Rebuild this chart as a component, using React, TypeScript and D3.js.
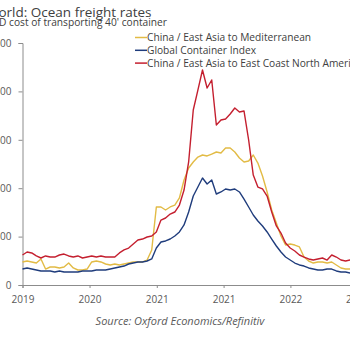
import { useEffect, useRef } from 'react';
import * as d3 from 'd3';

// three-weekly observations, May 2019 onward
const dates = d3.timeDay.range(new Date(2019, 4, 1), new Date(2023, 5, 2), 21);

const chinaMed = [
  2380, 2480, 2380, 2270, 2690, 1650, 1860, 1860, 1760, 1860, 2270, 1760,
  1550, 1550, 1650, 2380, 2480, 2380, 2170, 2070, 2170, 2070, 2170, 2270,
  2380, 2380, 2380, 2580, 3620, 8060, 8060, 7750, 8060, 8260, 8990, 10850,
  12090, 12710, 13220, 13430, 13330, 13530, 13740, 13640, 14150, 14150, 13740, 13120,
  12710, 12810, 13430, 12600, 11260, 9610, 7750, 6400, 5060, 4130, 4240, 4130,
  3930, 2890, 2480, 2270, 2380, 2380, 2270, 2380, 2070, 1760, 1650, 1650,
];

const globalIndex = [
  1650, 1760, 1650, 1550, 1450, 1450, 1450, 1340, 1450, 1340, 1340, 1340,
  1340, 1450, 1450, 1450, 1550, 1550, 1550, 1650, 1760, 1860, 1960, 2170,
  2270, 2380, 2380, 2480, 2690, 3820, 4440, 4550, 4750, 5060, 5480, 6200,
  7540, 9190, 10120, 11050, 10430, 10850, 9400, 9610, 9920, 9810, 9920, 9610,
  8880, 8060, 7230, 6610, 6090, 5480, 4750, 4030, 3410, 2890, 2580, 2270,
  2070, 1960, 1760, 1650, 1550, 1550, 1650, 1650, 1450, 1340, 1340, 1240,
];

const chinaUSEC = [
  3100, 3410, 3310, 3000, 2790, 3000, 2890, 2890, 3100, 3200, 3000, 2890,
  3000, 2790, 2890, 3000, 2890, 3000, 2890, 2890, 2890, 3310, 3620, 3820,
  4240, 4650, 4750, 4960, 5060, 5480, 6710, 6920, 7330, 7540, 8260, 9810,
  12710, 18080, 20140, 22210, 20350, 21180, 16530, 17040, 17150, 17660, 18280, 17870,
  17970, 14980, 11360, 10120, 9920, 9190, 7540, 6100, 5370, 4340, 3820, 3510,
  3100, 2890, 2690, 2580, 2690, 2790, 2580, 3100, 2890, 2580, 2480, 2580,
];

const seriesNames = [
  'China / East Asia to Mediterranean',
  'Global Container Index',
  'China / East Asia to East Coast North America',
];
const seriesColors = ['#e2bb45', '#1f3c7c', '#c41f2f'];
const yTicks = [0, 5000, 10000, 15000, 20000, 25000];
const xTicks = [
  new Date(2019, 4, 1),
  new Date(2020, 2, 1),
  new Date(2021, 0, 1),
  new Date(2021, 10, 1),
  new Date(2022, 8, 1),
  new Date(2023, 6, 1),
];

const FONT = '"Open Sans", "Noto Sans", sans-serif';

export default function App() {
  const svgRef = useRef<SVGSVGElement>(null);

  useEffect(() => {
    if (!svgRef.current) return;
    const svg = d3.select(svgRef.current);
    svg.selectAll('*').remove();

    const x = d3
      .scaleTime()
      .domain([xTicks[0], xTicks[xTicks.length - 1]])
      .range([22.5, 357]);
    const y = d3.scaleLinear().domain([0, 25000]).range([285, 43]);

    svg.append('rect').attr('width', 350).attr('height', 350).attr('fill', '#fff');

    // title block, partly cut by the left edge
    svg
      .append('text')
      .attr('x', -14)
      .attr('y', 16.5)
      .attr('font-size', 13.5)
      .attr('fill', '#404040')
      .text('World: Ocean freight rates');
    svg
      .append('text')
      .attr('x', -14)
      .attr('y', 26)
      .attr('font-size', 10.2)
      .attr('fill', '#404040')
      .text("USD cost of transporting 40' container");

    // y axis
    const yAxis = svg
      .append('g')
      .attr('transform', 'translate(22.5,0)')
      .call(
        d3
          .axisLeft(y)
          .tickValues(yTicks)
          .tickSize(4)
          .tickPadding(7)
          .tickFormat((d) => d3.format(',')(d as number))
      );
    yAxis.select('.domain').attr('stroke', '#8c8c8c');
    yAxis.selectAll('line').attr('stroke', '#8c8c8c');
    yAxis
      .selectAll('text')
      .attr('font-family', FONT)
      .attr('font-size', 10)
      .attr('fill', '#595959');

    // x axis
    const xAxis = svg
      .append('g')
      .attr('transform', 'translate(0,285)')
      .call(
        d3
          .axisBottom(x)
          .tickValues(xTicks)
          .tickSize(3)
          .tickPadding(8)
          .tickFormat((d) => d3.timeFormat('%Y')(d as Date))
      );
    xAxis.select('.domain').attr('stroke', '#8c8c8c');
    xAxis.selectAll('line').attr('stroke', '#8c8c8c');
    xAxis
      .selectAll('text')
      .attr('font-family', FONT)
      .attr('font-size', 10)
      .attr('fill', '#595959');

    const line = d3
      .line<number>()
      .x((_, i) => x(dates[i]))
      .y((d) => y(d));

    [chinaMed, globalIndex, chinaUSEC].forEach((data, k) => {
      svg
        .append('path')
        .datum(data)
        .attr('fill', 'none')
        .attr('stroke', seriesColors[k])
        .attr('stroke-width', 1.4)
        .attr('stroke-linejoin', 'round')
        .attr('d', line as never);
    });

    // legend
    const legend = svg.append('g').attr('transform', 'translate(135,37.5)');
    seriesNames.forEach((name, k) => {
      const row = legend.append('g').attr('transform', `translate(0,${k * 12.8})`);
      row
        .append('line')
        .attr('x1', 0)
        .attr('x2', 12)
        .attr('stroke', seriesColors[k])
        .attr('stroke-width', 1.5);
      row
        .append('text')
        .attr('x', 12)
        .attr('dy', '0.35em')
        .attr('font-size', 10.2)
        .attr('fill', '#404040')
        .text(name);
    });

    svg
      .append('text')
      .attr('x', 180)
      .attr('y', 325)
      .attr('text-anchor', 'middle')
      .attr('font-size', 11)
      .attr('font-style', 'italic')
      .attr('fill', '#595959')
      .text('Source: Oxford Economics/Refinitiv');
  }, []);

  return (
    <svg
      ref={svgRef}
      width={350}
      height={350}
      style={{ position: 'fixed', left: 0, top: 0, fontFamily: FONT }}
    />
  );
}
